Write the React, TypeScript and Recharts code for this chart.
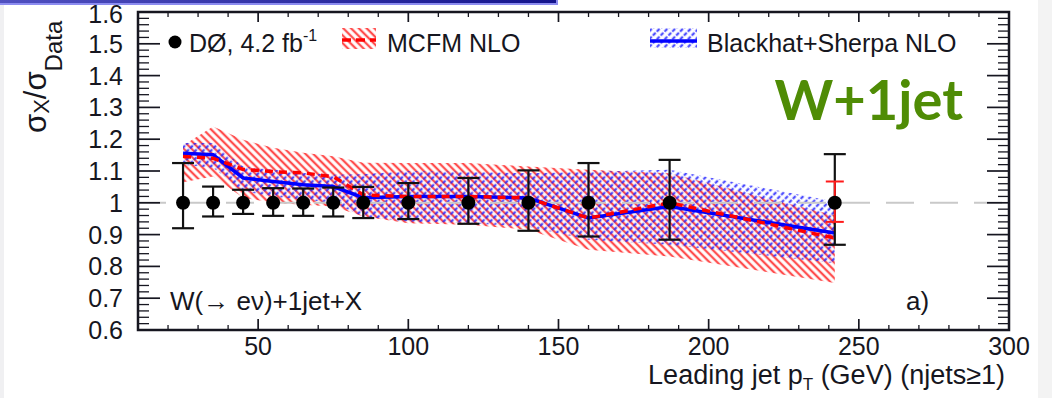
import React from "react";
import {
  ComposedChart,
  Area,
  Line,
  Scatter,
  ErrorBar,
  XAxis,
  YAxis,
  ReferenceLine,
} from "recharts";

// bin centres, leading jet pT (GeV)
const ptBins = [25, 35, 45, 55, 65, 75, 85, 100, 120, 140, 160, 187, 242];

// D0 data (ratio to itself) with total uncertainty
const dataRatio = [1, 1, 1, 1, 1, 1, 1, 1, 1, 1, 1, 1, 1];
const dataHigh = [1.125, 1.051, 1.041, 1.046, 1.045, 1.048, 1.05, 1.062, 1.078, 1.102, 1.125, 1.135, 1.153];
const dataLow = [0.92, 0.957, 0.965, 0.959, 0.959, 0.957, 0.952, 0.949, 0.934, 0.912, 0.894, 0.884, 0.868];

// MCFM NLO
const mcfm = [1.146, 1.14, 1.105, 1.098, 1.094, 1.082, 1.025, 1.02, 1.02, 1.015, 0.952, 1.0, 0.889];
const mcfmHigh = [1.18, 1.24, 1.198, 1.173, 1.157, 1.146, 1.126, 1.125, 1.125, 1.114, 1.104, 1.093, 0.96];
const mcfmLow = [1.065, 1.083, 1.016, 1.0, 0.994, 0.988, 0.957, 0.936, 0.931, 0.915, 0.852, 0.831, 0.748];

// Blackhat+Sherpa NLO
const bh = [1.156, 1.151, 1.078, 1.067, 1.057, 1.051, 1.016, 1.02, 1.02, 1.015, 0.952, 0.988, 0.905];
const bhHigh = [1.188, 1.188, 1.114, 1.104, 1.094, 1.088, 1.09, 1.1, 1.098, 1.093, 1.098, 1.104, 1.004];
const bhLow = [1.12, 1.11, 1.036, 1.02, 1.01, 1.0, 0.957, 0.941, 0.936, 0.925, 0.884, 0.868, 0.81];

// last bin also carries a small red (MCFM) error bar
const mcfmLastErr = [0.06, 0.067];

const xTicks = [50, 100, 150, 200, 250, 300];
const yTicks = [0.6, 0.7, 0.8, 0.9, 1, 1.1, 1.2, 1.3, 1.4, 1.5, 1.6];
// minor tick marks (every 10 GeV / every 0.02)
const xAllTicks = Array.from({ length: 29 }, (_, i) => 20 + i * 10);
const yAllTicks = Array.from({ length: 51 }, (_, i) => +(0.6 + i * 0.02).toFixed(2));

const W = 1052;
const H = 398;
const L = 138;
const R = 1009;
const T = 12;
const B = 330;
const FONT = "'Liberation Sans', Arial, Helvetica, sans-serif";
const INK = "#161620";

const rows = ptBins.map((x, i) => ({
  x,
  ratio: dataRatio[i],
  err: [dataRatio[i] - dataLow[i], dataHigh[i] - dataRatio[i]],
  mcfm: mcfm[i],
  mcfmBand: [mcfmLow[i], mcfmHigh[i]],
  bh: bh[i],
  bhBand: [bhLow[i], bhHigh[i]],
}));

const lastRow = [{ x: ptBins[ptBins.length - 1], ratio: 1, rerr: mcfmLastErr }];

const isMajor = (list: number[], v: number) => list.some((t) => Math.abs(t - v) < 1e-6);

const YTick = (props: any) => {
  const { y, payload } = props;
  const v = payload.value;
  if (!isMajor(yTicks, v)) {
    return (
      <g>
        <line x1={L} x2={L + 11} y1={y} y2={y} stroke={INK} strokeWidth={1.3} />
        <line x1={R - 11} x2={R} y1={y} y2={y} stroke={INK} strokeWidth={1.3} />
      </g>
    );
  }
  // top label sits a little lower, as in the original
  const ty = v === 1.6 ? y + 11 : y + 9;
  return (
    <g>
      <line x1={L} x2={L + 22} y1={y} y2={y} stroke={INK} strokeWidth={1.7} />
      <line x1={R - 22} x2={R} y1={y} y2={y} stroke={INK} strokeWidth={1.7} />
      <text x={123} y={ty} textAnchor="end" fontSize={25} fontFamily={FONT} fill={INK}>
        {v === 1 ? "1" : v.toFixed(1)}
      </text>
    </g>
  );
};

const XTick = (props: any) => {
  const { x, payload } = props;
  const v = payload.value;
  if (!isMajor(xTicks, v)) {
    return (
      <g>
        <line x1={x} x2={x} y1={B} y2={B - 5} stroke={INK} strokeWidth={1.3} />
        <line x1={x} x2={x} y1={T} y2={T + 5} stroke={INK} strokeWidth={1.3} />
      </g>
    );
  }
  return (
    <g>
      <line x1={x} x2={x} y1={B} y2={B - 11} stroke={INK} strokeWidth={1.7} />
      <line x1={x} x2={x} y1={T} y2={T + 10} stroke={INK} strokeWidth={1.7} />
      <text x={x} y={355} textAnchor="middle" fontSize={25} fontFamily={FONT} fill={INK}>
        {v}
      </text>
    </g>
  );
};

const Dot = (props: any) => <circle cx={props.cx} cy={props.cy} r={7} fill="#000" />;
const NoDot = () => <g />;

const Hatches = ({ suffix }: { suffix: string }) => (
  <defs>
    <pattern id={`redHatch${suffix}`} width="5.5" height="5.5" patternUnits="userSpaceOnUse" patternTransform="rotate(-45)">
      <line x1="2.75" y1="0" x2="2.75" y2="5.5" stroke="#ff2020" strokeWidth="2.3" strokeOpacity="0.8" />
    </pattern>
    <pattern id={`blueHatch${suffix}`} width="5.5" height="5.5" patternUnits="userSpaceOnUse" patternTransform="rotate(45)">
      <line x1="2.75" y1="0" x2="2.75" y2="5.5" stroke="#2222ff" strokeWidth="2.3" strokeOpacity="0.8" strokeDasharray="3.5 1.5" />
    </pattern>
  </defs>
);

export default function App() {
  return (
    <div
      style={{
        position: "absolute",
        left: 0,
        top: 0,
        width: W,
        height: H,
        background: "#fff",
        overflow: "hidden",
      }}
    >
      {/* slide decorations */}
      <div style={{ position: "absolute", left: 0, top: 0, width: 4, height: H, background: "#f0f0f2" }} />
      <div style={{ position: "absolute", left: 1038, top: 0, width: 14, height: H, background: "#f3f3f3" }} />
      <div
        style={{
          position: "absolute",
          left: 0,
          top: 0,
          width: 556,
          height: 3,
          background: "linear-gradient(to right, #5050c0, #14148c)",
          borderRight: "2px solid #8c8cf0",
          borderBottom: "2px solid #8c8cf0",
        }}
      />

      <div style={{ position: "absolute", left: 0, top: 0 }}>
        <ComposedChart
          width={W}
          height={H}
          data={rows}
          margin={{ top: T, right: W - R, bottom: 38, left: 78 }}
        >
          <Hatches suffix="" />

          <XAxis
            dataKey="x"
            type="number"
            domain={[10, 300]}
            ticks={xAllTicks}
            height={30}
            axisLine={false}
            tickLine={false}
            tick={<XTick />}
            interval={0}
          />
          <YAxis
            type="number"
            domain={[0.6, 1.6]}
            ticks={yAllTicks}
            width={60}
            axisLine={false}
            tickLine={false}
            tick={<YTick />}
            interval={0}
          />

          <ReferenceLine y={1} stroke="#c9c9c9" strokeWidth={2} strokeDasharray="28 16" />

          <Area
            dataKey="mcfmBand"
            type="linear"
            fill="url(#redHatch)"
            fillOpacity={1}
            stroke="none"
            isAnimationActive={false}
          />
          <Area
            dataKey="bhBand"
            type="linear"
            fill="url(#blueHatch)"
            fillOpacity={1}
            stroke="none"
            isAnimationActive={false}
          />
          <Line
            dataKey="bh"
            type="linear"
            stroke="#0000ff"
            strokeWidth={3.5}
            dot={false}
            isAnimationActive={false}
          />
          <Line
            dataKey="mcfm"
            type="linear"
            stroke="#ff0000"
            strokeWidth={3.5}
            strokeDasharray="8 6"
            dot={false}
            isAnimationActive={false}
          />

          <Scatter dataKey="ratio" shape={<NoDot />} isAnimationActive={false}>
            <ErrorBar dataKey="err" direction="y" width={11} stroke="#111" strokeWidth={2.2} />
          </Scatter>
          <Scatter data={lastRow} dataKey="ratio" shape={<NoDot />} isAnimationActive={false}>
            <ErrorBar dataKey="rerr" direction="y" width={9} stroke="#ff1a1a" strokeWidth={2} />
          </Scatter>
          <Scatter dataKey="ratio" shape={<Dot />} isAnimationActive={false} />
        </ComposedChart>
      </div>

      {/* frame, legend and labels */}
      <svg
        width={W}
        height={H}
        style={{ position: "absolute", left: 0, top: 0, pointerEvents: "none" }}
        fontFamily={FONT}
      >
        <Hatches suffix="L" />

        <rect x={L} y={T} width={R - L} height={B - T} fill="none" stroke={INK} strokeWidth={2.5} />

        {/* y label */}
        <text transform="translate(46,133) rotate(-90)" fontSize={31} fill={INK}>
          σ
          <tspan fontSize={22} dy={3}>X</tspan>
          <tspan dy={-3}>/σ</tspan>
          <tspan fontSize={24} dy={16}>Data</tspan>
        </text>

        {/* legend */}
        <circle cx={175} cy={42} r={6.5} fill="#000" />
        <text x={189} y={52} fontSize={25} fill={INK}>
          DØ, 4.2 fb<tspan fontSize={16} dy={-11}>-1</tspan>
        </text>

        <rect x={342} y={28} width={34} height={21} fill="url(#redHatchL)" />
        <line x1={342} x2={376} y1={40} y2={40} stroke="#ff0000" strokeWidth={3.5} strokeDasharray="9 5" />
        <text x={387} y={52} fontSize={25} fill={INK}>MCFM NLO</text>

        <rect x={650} y={28} width={47} height={20} fill="url(#blueHatchL)" />
        <line x1={650} x2={697} y1={41} y2={41} stroke="#0000ff" strokeWidth={3.5} />
        <text x={707} y={52} fontSize={25} fill={INK}>Blackhat+Sherpa NLO</text>

        <text
          x={963}
          y={120}
          textAnchor="end"
          fontSize={56}
          fontWeight={700}
          fontFamily="Lato, 'Open Sans', sans-serif"
          fill="#4f8c05"
        >
          W+1jet
        </text>

        <text x={170} y={310} fontSize={26} fill={INK}>W(→ eν)+1jet+X</text>
        <text x={906} y={310} fontSize={26} fill={INK}>a)</text>

        <text x={1005} y={384} textAnchor="end" fontSize={27} fill={INK}>
          Leading jet p<tspan fontSize={17} dy={6}>T</tspan>
          <tspan dy={-6}> (GeV) (njets≥1)</tspan>
        </text>
      </svg>
    </div>
  );
}
